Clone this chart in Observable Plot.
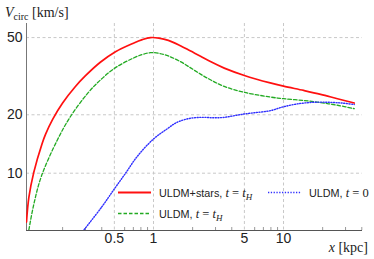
<!DOCTYPE html>
<html><head><meta charset="utf-8">
<script src="https://cdn.jsdelivr.net/npm/d3@7"></script>
<script src="https://cdn.jsdelivr.net/npm/@observablehq/plot@0.6"></script>
<style>body{margin:0;background:#fff;} #chart{width:374px;height:259px;}</style>
</head><body><div id="chart"></div>
<script>
// Tick values
const xTicks = [0.5, 1, 5, 10];
const xMinor = [0.2, 0.3, 0.4, 0.6, 0.7, 0.8, 0.9, 2, 3, 4, 6, 7, 8, 9, 20, 30, 40];
const yTicks = [10, 20, 50];
const xDomain = [0.1055, 40.5];
const yDomain = [5.065, 59.1];

// ULDM+stars, t = t_H
const redX = [0.1055, 0.11, 0.12, 0.139, 0.148, 0.168, 0.2, 0.25, 0.3, 0.39, 0.51, 0.7, 0.82, 0.95, 1.1, 1.3, 1.61, 1.93, 2.3, 2.74, 3.5, 5, 7.9, 10, 14.3, 19.3, 26, 35];
const redV = [5.6, 7.5, 10.1, 14.2, 15.9, 19.0, 23.0, 27.9, 31.8, 37.3, 42.3, 46.8, 48.8, 50, 49.7, 48.4, 45.4, 42.6, 40.1, 37.6, 34.8, 31.9, 29.2, 28.1, 26.7, 25.5, 24.2, 23.0];
// ULDM, t = t_H
const greenX = [0.11, 0.12, 0.137, 0.181, 0.23, 0.31, 0.39, 0.51, 0.7, 0.82, 0.95, 1.1, 1.3, 1.61, 1.93, 2.3, 2.74, 3.5, 5, 7.9, 10, 14.3, 19.3, 26, 35];
const greenV = [5.1, 6.9, 9.6, 14.7, 19.6, 25.7, 30.2, 35, 39.2, 40.9, 41.8, 41.5, 40.2, 37.6, 34.9, 32.4, 30.3, 28.0, 26.1, 24.7, 24.2, 23.7, 23.1, 22.4, 21.5];
// ULDM, t = 0
const blueX = [0.285, 0.4, 0.5, 0.61, 0.75, 1, 1.27, 1.52, 1.93, 2.4, 2.9, 3.5, 4.2, 5, 6, 7.9, 10, 13, 17, 22, 28, 35];
const blueV = [5.0, 6.7, 8.3, 10, 12.2, 15, 16.9, 18.3, 19.2, 19.4, 19.3, 19.4, 19.8, 20.2, 20.5, 21.0, 22.0, 22.8, 23.2, 23.2, 23.0, 22.6];

const toRows = (xs, vs) => xs.map((x, i) => ({x, v: vs[i]}));
const red = toRows(redX, redV), green = toRows(greenX, greenV), blue = toRows(blueX, blueV);

const grid = {stroke: "#c8c8c8", strokeOpacity: 1, strokeDasharray: "3,2.5", strokeWidth: 1};
const chart = Plot.plot({
  width: 374, height: 259,
  marginLeft: 26, marginRight: 12, marginTop: 23, marginBottom: 29,
  style: {fontFamily: "'Liberation Sans', Arial, sans-serif", fontSize: "14px", color: "#222", background: "#fff"},
  x: {type: "log", domain: xDomain},
  y: {type: "log", domain: yDomain},
  marks: [
    Plot.gridX(xTicks, grid),
    Plot.gridY(yTicks, grid),
    Plot.axisX(xMinor, {tickSize: 3, dy: -3, tickFormat: () => "", stroke: "#999", label: null}),
    Plot.text(xTicks, {x: d => d, frameAnchor: "bottom", dy: 12, text: d => String(d), fontSize: 14, fill: "#222"}),
    Plot.axisY(yTicks, {tickSize: 0, tickPadding: 4, label: null, tickFormat: d => String(d), fontSize: 14}),
    Plot.ruleX([xDomain[0]], {stroke: "#777", strokeWidth: 1}),
    Plot.ruleY([yDomain[0]], {stroke: "#555", strokeWidth: 1}),
    Plot.line(green, {x: "x", y: "v", stroke: "#22aa22", strokeWidth: 1.3, strokeDasharray: "3.5,2", curve: "catmull-rom", clip: true}),
    Plot.line(blue, {x: "x", y: "v", stroke: "#3030ff", strokeWidth: 1.4, strokeDasharray: "1,1.6", curve: "catmull-rom", clip: true}),
    Plot.line(red, {x: "x", y: "v", stroke: "#ff1010", strokeWidth: 1.7, curve: "catmull-rom", clip: true})
  ]
});
document.getElementById("chart").appendChild(chart);

const svg = d3.select(chart);
const serif = "'Liberation Serif', 'Times New Roman', serif";
const sans = "'Liberation Sans', Arial, sans-serif";
// y title
const yt = svg.append("text").attr("x", 5).attr("y", 17).attr("text-anchor", "start").style("font-family", serif).style("font-size", "14px").attr("fill", "#222");
yt.append("tspan").style("font-style", "italic").text("V");
yt.append("tspan").style("font-size", "10px").attr("dy", 3).text("circ");
yt.append("tspan").attr("dy", -3).text(" [km/s]");
// x title
const xt = svg.append("text").attr("x", 368).attr("y", 252).attr("text-anchor", "end").style("font-family", serif).style("font-size", "14px").attr("fill", "#222");
xt.append("tspan").style("font-style", "italic").text("x");
xt.append("tspan").text(" [kpc]");

// legend
const legend = [
  {label: "ULDM+stars,", t: "H", stroke: "#ff1010", dash: null, w: 2, x: 118, y: 192.5},
  {label: "ULDM,", t: "0", stroke: "#3030ff", dash: "1.3,1.5", w: 1.6, x: 268, y: 192.5},
  {label: "ULDM,", t: "H", stroke: "#22aa22", dash: "3.5,2", w: 1.4, x: 118, y: 213.5}
];
for (const d of legend) {
  svg.append("line").attr("x1", d.x).attr("x2", d.x + 33).attr("y1", d.y).attr("y2", d.y)
    .attr("stroke", d.stroke).attr("stroke-width", d.w).attr("stroke-dasharray", d.dash);
  const t = svg.append("text").attr("x", d.x + 41).attr("y", d.y + 4).attr("text-anchor", "start")
    .style("font-size", "10.8px").style("font-family", sans).attr("fill", "#222");
  t.append("tspan").text(d.label);
  const m = t.append("tspan").style("font-family", serif).style("font-size", "12.5px");
  if (d.t === "0") {
    m.append("tspan").style("font-style", "italic").text(" t");
    m.append("tspan").text(" = 0");
  } else {
    m.append("tspan").style("font-style", "italic").text(" t");
    m.append("tspan").text(" = ");
    m.append("tspan").style("font-style", "italic").text("t");
    m.append("tspan").style("font-style", "italic").style("font-size", "9px").attr("dy", 3).text("H");
  }
}
</script>
</body></html>
